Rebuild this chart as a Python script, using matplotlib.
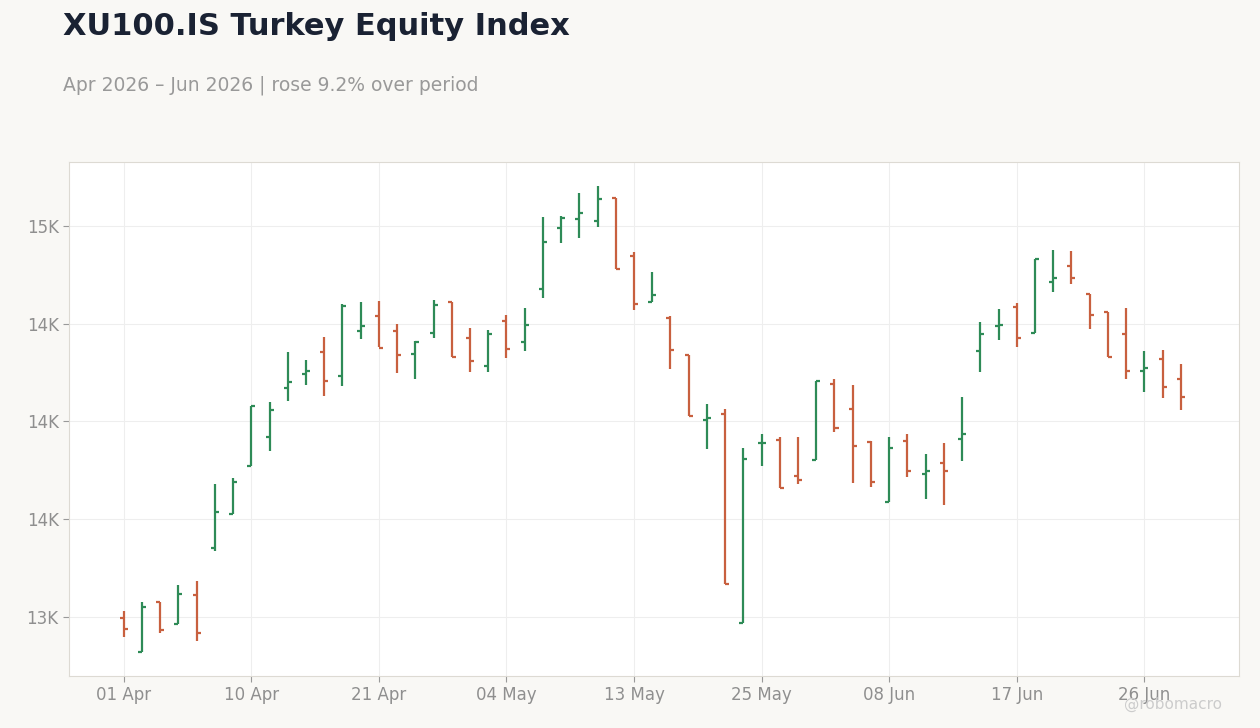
import matplotlib
matplotlib.use("Agg")
import matplotlib.pyplot as plt
from matplotlib.ticker import FuncFormatter, MultipleLocator

opens = [12995,12821,13077,12964,13113,13353,13527,13772,13921,14171,14243,14355,14233,14463,14540,14463,14345,14453,14611,14427,
         14284,14514,14407,14678,14990,15036,15026,15143,14847,14611,14529,14340,14008,14038,12969,13890,13905,13721,13803,14191,
         14064,13895,13588,13900,13731,13788,13910,14361,14488,14586,14453,14714,14795,14652,14560,14448,14258,14320,14217]
highs = [13031,13077,13077,13164,13184,13680,13711,14079,14100,14355,14315,14432,14601,14611,14616,14499,14412,14621,14611,14478,
         14468,14545,14581,15046,15051,15169,15205,15143,14867,14765,14540,14340,14089,14064,13864,13936,13921,13921,14207,14217,
         14187,13900,13921,13936,13834,13890,14125,14509,14575,14606,14831,14877,14872,14652,14560,14581,14361,14366,14294]
lows = [12898,12821,12918,12964,12877,13338,13527,13772,13849,14105,14187,14130,14182,14422,14381,14248,14217,14427,14330,14253,
        14253,14325,14361,14632,14913,14939,14995,14780,14570,14611,14269,14028,13859,13169,12969,13772,13660,13680,13803,13946,
        13685,13665,13588,13716,13604,13573,13798,14253,14417,14381,14453,14662,14703,14473,14330,14217,14151,14120,14059]
closes = [12939,13051,12934,13118,12918,13537,13691,14079,14059,14202,14258,14207,14591,14488,14376,14340,14407,14596,14330,14309,
          14448,14371,14494,14918,15041,15066,15138,14780,14601,14647,14366,14028,14018,13169,13808,13890,13660,13701,14207,13967,
          13875,13691,13864,13747,13747,13747,13936,14448,14494,14427,14831,14734,14734,14545,14330,14258,14274,14176,14125]
tick_pos = [0, 7, 14, 21, 28, 35, 42, 49, 56]
tick_labels = ["01 Apr", "10 Apr", "21 Apr", "04 May", "13 May", "25 May", "08 Jun", "17 Jun", "26 Jun"]

UP, DOWN = "#2e8b57", "#c8603f"
BG = "#f9f8f5"

fig = plt.figure(figsize=(12.6, 7.28), dpi=100, facecolor=BG)
ax = fig.add_axes([0.0548, 0.0714, 0.9286, 0.706])
ax.set_facecolor("white")

for i, (o, h, l, c) in enumerate(zip(opens, highs, lows, closes)):
    col = UP if c >= o else DOWN
    ax.vlines(i, l, h, color=col, lw=1.6)
    ax.hlines(o, i - 0.22, i, color=col, lw=1.6)
    ax.hlines(c, i, i + 0.22, color=col, lw=1.6)

ax.set_xlim(-3, 61.2)
ax.set_ylim(12698, 15327)
ax.yaxis.set_major_locator(MultipleLocator(500))
ax.yaxis.set_major_formatter(FuncFormatter(lambda v, p: f"{v/1000:.0f}K"))
ax.set_xticks(tick_pos)
ax.set_xticklabels(tick_labels)
ax.grid(True, color="#eeeeee", lw=0.8)
ax.set_axisbelow(True)
for s in ax.spines.values():
    s.set_color("#dddad3")
ax.tick_params(colors="#999999", labelsize=12, length=4)
for t in ax.get_xticklabels() + ax.get_yticklabels():
    t.set_color("#8f8f8f")

fig.text(0.05, 0.984, "XU100.IS Turkey Equity Index", fontsize=22, fontweight="bold",
         color="#1a2233", va="top")
fig.text(0.05, 0.896, "Apr 2026 \u2013 Jun 2026 | rose 9.2% over period", fontsize=13.5,
         color="#999999", va="top")
fig.text(0.97, 0.032, "@robomacro", fontsize=11, color="#cccccc", ha="right", va="center")

fig.savefig("out.png", dpi=100, facecolor=BG)
